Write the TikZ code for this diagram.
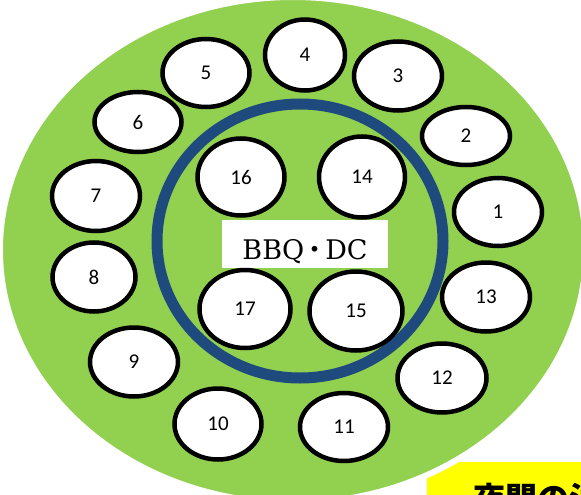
\documentclass[tikz,border=0pt]{standalone}
\usepackage{fontspec}
\setmainfont{Carlito}
\newfontfamily\bbqfont{DejaVu Serif}
\newfontfamily\jpfont{Noto Sans CJK JP}
\usetikzlibrary{shapes.geometric}
\definecolor{grass}{HTML}{92D050}
\definecolor{ringblue}{HTML}{1F4A7E}
\definecolor{noteyellow}{HTML}{FFFF00}

\begin{document}
\begin{tikzpicture}[x=1pt,y=-1pt,
 seat/.style={ellipse,draw=black,line width=4.5pt,fill=white,inner sep=0pt,
  font=\fontsize{21}{21}\selectfont}]
\useasboundingbox (0,0) rectangle (581,495);
\clip (0,0) rectangle (581,495);
\node[fill=noteyellow,anchor=north west,minimum width=200pt,minimum height=60pt,inner sep=0pt] (note) at (427,462) {};
\fill[grass,draw=white,line width=6pt] (293,250) ellipse [x radius=293,y radius=253];
\draw[ringblue,line width=11pt] (300,241) ellipse [x radius=143,y radius=137];
\node[fill=white,minimum width=166pt,minimum height=48pt,inner sep=0pt,text height=30pt,text depth=0pt,
 font=\bbqfont\fontsize{27}{27}\selectfont] (title) at (305,244) {BBQ\kern-3pt{\jpfont ・}\kern-3pt DC};
% tables round the grill
\foreach \n/\x/\y/\w/\h in {1/498/212/88/68,2/466/136/88/58,3/398/76/88/69,4/305/55/80/71,
 5/206/73/87/68,6/138/122/87/60,7/96/196/88/70,8/94/277/83/69,9/134/362/88/69,
 10/218/424/87/71,11/344/427/88/68,12/442/378/89/69,13/486/297/88/69,
 14/362/177/86/81,15/356/311/93/79,16/241/177/87/77,17/245/309/91/78}
 \node[seat,minimum width=\w pt,minimum height=\h pt] (t\n) at (\x,\y) {\n};
\node[anchor=base west,inner sep=0pt,font=\jpfont\bfseries\fontsize{32}{32}\selectfont] (notetext) at (473,510) {夜間の注意};
\end{tikzpicture}
\end{document}
